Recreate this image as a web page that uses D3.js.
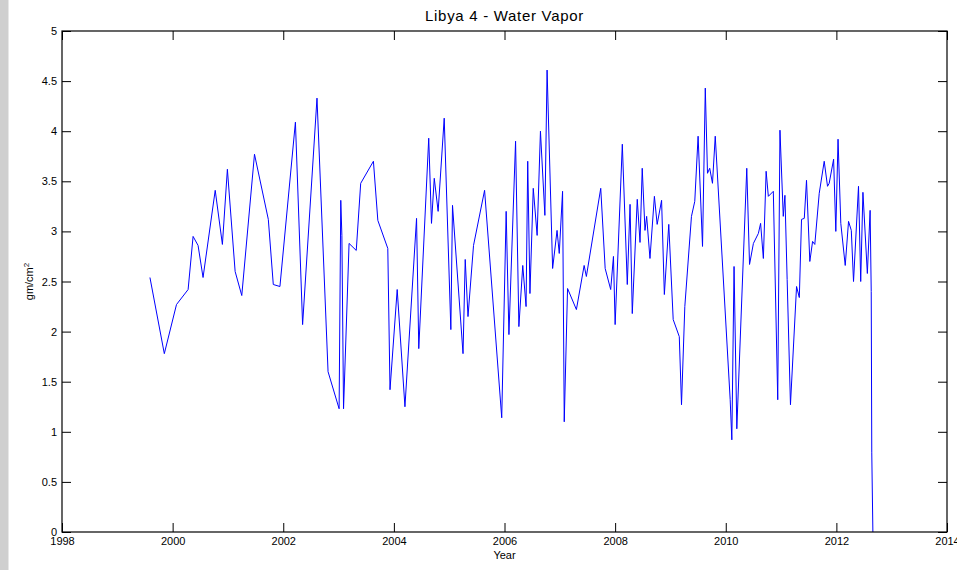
<!DOCTYPE html>
<html>
<head>
<meta charset="utf-8">
<script src="https://cdn.jsdelivr.net/npm/d3@7"></script>
<style>
  html, body { margin: 0; padding: 0; background: #fff; }
  svg { display: block; }
  text { font-family: "Liberation Sans", Arial, sans-serif; fill: #000; }
</style>
</head>
<body>
<svg id="chart" width="957" height="570"></svg>
<script>
const titleText = "Libya 4 - Water Vapor";
const xLabel = "Year";
const yTicks = [0, 0.5, 1, 1.5, 2, 2.5, 3, 3.5, 4, 4.5, 5];
const xTicks = [1998, 2000, 2002, 2004, 2006, 2008, 2010, 2012, 2014];

const years = [
  1999.59, 1999.85, 2000.07, 2000.28, 2000.37, 2000.46, 2000.55, 2000.77, 2000.90, 2000.99,
  2001.13, 2001.25, 2001.48, 2001.73, 2001.82, 2001.94, 2002.22, 2002.35, 2002.61, 2002.81,
  2003.01, 2003.04, 2003.06, 2003.09, 2003.19, 2003.32, 2003.40, 2003.63, 2003.71, 2003.89,
  2003.93, 2004.06, 2004.20, 2004.41, 2004.45, 2004.63, 2004.68, 2004.73, 2004.80, 2004.91,
  2005.03, 2005.06, 2005.25, 2005.29, 2005.34, 2005.44, 2005.64, 2005.95, 2006.03, 2006.08,
  2006.20, 2006.26, 2006.33, 2006.39, 2006.42, 2006.46, 2006.52, 2006.59, 2006.65, 2006.73,
  2006.77, 2006.87, 2006.95, 2006.99, 2007.05, 2007.08, 2007.14, 2007.30, 2007.44, 2007.48,
  2007.74, 2007.82, 2007.92, 2007.97, 2008.00, 2008.13, 2008.22, 2008.27, 2008.31, 2008.40,
  2008.45, 2008.49, 2008.54, 2008.57, 2008.63, 2008.71, 2008.76, 2008.84, 2008.89, 2008.97,
  2009.05, 2009.16, 2009.20, 2009.26, 2009.38, 2009.44, 2009.50, 2009.58, 2009.63, 2009.67,
  2009.71, 2009.76, 2009.81, 2010.08, 2010.11, 2010.15, 2010.20, 2010.38, 2010.43, 2010.50,
  2010.59, 2010.63, 2010.68, 2010.73, 2010.77, 2010.86, 2010.94, 2010.98, 2011.04, 2011.07,
  2011.11, 2011.17, 2011.28, 2011.33, 2011.37, 2011.42, 2011.46, 2011.52, 2011.57, 2011.61,
  2011.69, 2011.78, 2011.84, 2011.87, 2011.95, 2011.99, 2012.03, 2012.08, 2012.16, 2012.22,
  2012.27, 2012.31, 2012.40, 2012.44, 2012.48, 2012.56, 2012.61, 2012.63, 2012.64, 2012.66
];
const waterVapor = [
  2.54, 1.78, 2.27, 2.42, 2.95, 2.86, 2.54, 3.41, 2.87, 3.62,
  2.60, 2.36, 3.77, 3.12, 2.47, 2.45, 4.09, 2.07, 4.33, 1.60,
  1.23, 3.31, 2.96, 1.23, 2.88, 2.81, 3.48, 3.70, 3.11, 2.83,
  1.42, 2.42, 1.25, 3.13, 1.83, 3.93, 3.08, 3.53, 3.20, 4.13,
  2.02, 3.26, 1.78, 2.72, 2.15, 2.86, 3.41, 1.14, 3.20, 1.97,
  3.90, 2.05, 2.66, 2.25, 3.70, 2.38, 3.43, 2.96, 4.00, 3.16,
  4.61, 2.63, 3.01, 2.78, 3.40, 1.10, 2.43, 2.22, 2.66, 2.55,
  3.43, 2.63, 2.42, 2.75, 2.07, 3.87, 2.47, 3.27, 2.18, 3.32,
  2.89, 3.63, 3.01, 3.15, 2.73, 3.35, 3.07, 3.31, 2.37, 3.07,
  2.12, 1.95, 1.27, 2.25, 3.15, 3.30, 3.95, 2.85, 4.43, 3.58,
  3.63, 3.48, 3.95, 1.32, 0.92, 2.65, 1.03, 3.63, 2.67, 2.88,
  2.98, 3.08, 2.73, 3.60, 3.35, 3.40, 1.32, 4.01, 3.15, 3.36,
  2.52, 1.27, 2.45, 2.34, 3.12, 3.13, 3.51, 2.70, 2.90, 2.87,
  3.38, 3.70, 3.45, 3.48, 3.72, 3.00, 3.92, 3.08, 2.66, 3.10,
  3.01, 2.50, 3.45, 2.50, 3.39, 2.58, 3.21, 2.40, 0.79, 0.00
];

const svg = d3.select("#chart");
const W = 957, H = 570;
const m = { left: 62, right: 947, top: 31, bottom: 532 };

// left grey strip
svg.append("rect").attr("x", 0).attr("y", 0).attr("width", 8.5).attr("height", H).attr("fill", "#cfcfcf");

const x = d3.scaleLinear().domain([1998, 2014]).range([m.left, m.right]);
const y = d3.scaleLinear().domain([0, 5]).range([m.bottom, m.top]);

const tickLen = 9;
const axisFont = 11;

const gB = svg.append("g").attr("transform", `translate(0,${m.bottom})`)
  .call(d3.axisBottom(x).tickValues(xTicks).tickFormat(d3.format("d")).tickSizeInner(-tickLen).tickSizeOuter(0).tickPadding(5));
const gT = svg.append("g").attr("transform", `translate(0,${m.top})`)
  .call(d3.axisTop(x).tickValues(xTicks).tickFormat("").tickSizeInner(-tickLen).tickSizeOuter(0));
const gL = svg.append("g").attr("transform", `translate(${m.left},0)`)
  .call(d3.axisLeft(y).tickValues(yTicks).tickFormat(d => String(d)).tickSizeInner(-tickLen).tickSizeOuter(0).tickPadding(5));
const gR = svg.append("g").attr("transform", `translate(${m.right},0)`)
  .call(d3.axisRight(y).tickValues(yTicks).tickFormat("").tickSizeInner(-tickLen).tickSizeOuter(0));

[gB, gT, gL, gR].forEach(g => {
  g.select(".domain").remove();
  g.selectAll("line").attr("stroke", "#000").attr("stroke-width", 1);
  g.selectAll("text").attr("font-size", axisFont).attr("font-family", "Liberation Sans, Arial, sans-serif").attr("fill", "#000");
});
gB.selectAll("text").attr("dy", "0.71em").attr("y", 5);

const pts = years.map((yr, i) => [yr, waterVapor[i]]);
const line = d3.line().x(d => x(d[0])).y(d => y(d[1]));
svg.append("path").datum(pts).attr("d", line)
  .attr("fill", "none").attr("stroke", "#0000ff").attr("stroke-width", 1);

svg.append("rect").attr("x", m.left).attr("y", m.top)
  .attr("width", m.right - m.left).attr("height", m.bottom - m.top)
  .attr("fill", "none").attr("stroke", "#000").attr("stroke-width", 1.2);

svg.append("text").attr("x", (m.left + m.right) / 2).attr("y", 21)
  .attr("text-anchor", "middle").attr("font-size", 15).attr("letter-spacing", 0.7).text(titleText);

svg.append("text").attr("x", (m.left + m.right) / 2).attr("y", 559)
  .attr("text-anchor", "middle").attr("font-size", 11).text(xLabel);

const yl = svg.append("text")
  .attr("transform", `translate(33,${(m.top + m.bottom) / 2}) rotate(-90)`)
  .attr("text-anchor", "middle").attr("font-size", 11);
yl.append("tspan").text("gm/cm");
yl.append("tspan").attr("font-size", 8).attr("dy", -4).text("2");
</script>
</body>
</html>
